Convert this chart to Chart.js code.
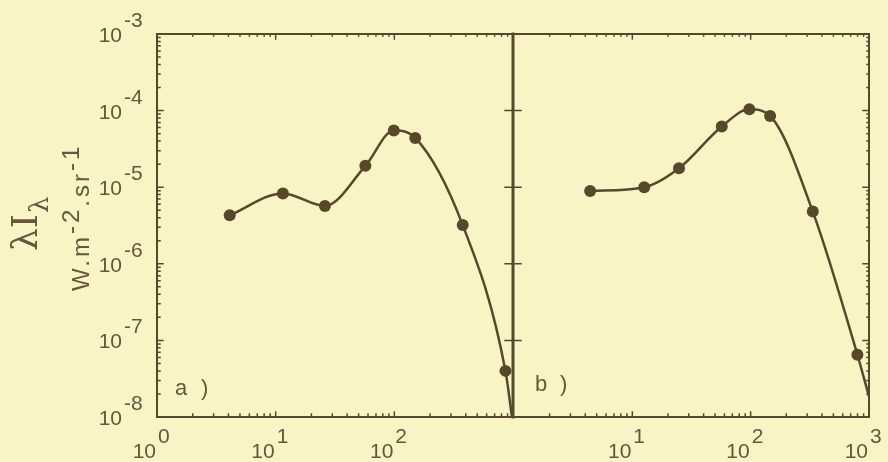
<!DOCTYPE html>
<html>
<head>
<meta charset="utf-8">
<script src="https://cdn.jsdelivr.net/npm/chart.js@4.4.0/dist/chart.umd.min.js"></script>
<style>
  html, body { margin: 0; padding: 0; background: #f8f4c6; }
  #wrap { position: relative; width: 888px; height: 462px; }
  #wrap canvas { position: absolute; left: 0; top: 0; }
</style>
</head>
<body>
<div id="wrap">
  <canvas id="chartA" width="888" height="462"></canvas>
  <canvas id="chartB" width="888" height="462"></canvas>
</div>
<script>
// Panel a)
const waveA = [4.1, 11.5, 26, 57, 99, 150, 377, 864, 980];
const fluxA = [4.3e-6, 8.3e-6, 5.7e-6, 1.9e-5, 5.5e-5, 4.4e-5, 3.2e-6, 4.0e-8, 1.0e-8];
const markA = [6, 6, 6, 6, 6, 6, 6, 6, 0];   // last one is just where the curve ends

// Panel b)
const waveB = [4.4, 12.6, 24.8, 57, 97.5, 146, 335, 798, 1000];
const fluxB = [8.9e-6, 1.0e-5, 1.77e-5, 6.2e-5, 1.04e-4, 8.5e-5, 4.8e-6, 6.5e-8, 1.85e-8];
const markB = [6, 6, 6, 6, 6, 6, 6, 6, 0];

// Axis ticks (exponents of ten)
const yExps = [-8, -7, -6, -5, -4, -3];
const xExpsA = [0, 1, 2];
const xExpsB = [1, 2, 3];

const ink = '#58482a';
const textInk = '#66563a';
const numFont = '21px "Liberation Sans", Arial, sans-serif';

function points(xs, ys) {
    return xs.map((x, i) => ({ x: x, y: ys[i] }));
}

function minorValues(lo, hi) {
    const v = [];
    for (let k = lo; k < hi; k++)
        for (let m = 2; m <= 9; m++) v.push(m * Math.pow(10, k));
    return v;
}

// "10" with a raised exponent, "10" ends at xRight
function drawPow(ctx, xRight, yBase, exp) {
    ctx.font = numFont;
    ctx.fillStyle = textInk;
    ctx.textBaseline = 'alphabetic';
    ctx.textAlign = 'right';
    ctx.fillText('10', xRight, yBase);
    ctx.textAlign = 'left';
    ctx.fillText(String(exp), xRight + 2, yBase - 15);
}

function frameA() {
    return {
        id: 'frameA',
        afterDraw(chart) {
            const ctx = chart.ctx, a = chart.chartArea;
            const xs = chart.scales.x, ys = chart.scales.y;
            ctx.save();
            ctx.strokeStyle = ink;
            ctx.lineCap = 'square';
            ctx.lineWidth = 2;
            ctx.beginPath();
            ctx.moveTo(a.right, a.top); ctx.lineTo(a.left, a.top);
            ctx.lineTo(a.left, a.bottom); ctx.lineTo(a.right, a.bottom);
            ctx.stroke();
            // divider between the panels
            ctx.lineWidth = 3;
            ctx.beginPath();
            ctx.moveTo(a.right, a.top); ctx.lineTo(a.right, a.bottom);
            ctx.stroke();

            ctx.lineWidth = 1.5;
            ctx.beginPath();
            // left axis ticks
            yExps.forEach(e => {
                const y = ys.getPixelForValue(Math.pow(10, e));
                ctx.moveTo(a.left, y); ctx.lineTo(a.left + 6, y);
                ctx.moveTo(a.right - 8, y); ctx.lineTo(a.right + 8, y);
            });
            minorValues(-8, -3).forEach(v => {
                const y = ys.getPixelForValue(v);
                ctx.moveTo(a.left, y); ctx.lineTo(a.left + 3, y);
            });
            // bottom / top ticks
            [1, 10, 100].forEach(v => {
                const x = xs.getPixelForValue(v);
                ctx.moveTo(x, a.bottom); ctx.lineTo(x, a.bottom - 5);
                ctx.moveTo(x, a.top); ctx.lineTo(x, a.top + 5);
            });
            minorValues(0, 3).forEach(v => {
                const x = xs.getPixelForValue(v);
                ctx.moveTo(x, a.bottom); ctx.lineTo(x, a.bottom - 3);
                ctx.moveTo(x, a.top); ctx.lineTo(x, a.top + 2);
            });
            ctx.stroke();

            // tick labels
            yExps.forEach(e => {
                const y = ys.getPixelForValue(Math.pow(10, e));
                drawPow(ctx, 122, y + 8, e);
            });
            xExpsA.forEach(e => {
                const x = xs.getPixelForValue(Math.pow(10, e));
                drawPow(ctx, x - 1, 458, e);
            });

            // panel label
            ctx.font = '22px "Liberation Sans", Arial, sans-serif';
            ctx.textAlign = 'left';
            ctx.fillText('a', 175, 395);
            ctx.fillText(')', 201, 395);

            // axis title, rotated
            ctx.translate(37, 251);
            ctx.rotate(-Math.PI / 2);
            ctx.font = '36px "DejaVu Serif", serif';
            ctx.fillText('λI', 0, 0);
            const w = ctx.measureText('λI').width;
            ctx.font = '26px "DejaVu Serif", serif';
            ctx.fillText('λ', w + 1, 11);
            ctx.setTransform(1, 0, 0, 1, 0, 0);

            ctx.translate(89, 291);
            ctx.rotate(-Math.PI / 2);
            ctx.font = '24px "Liberation Sans", Arial, sans-serif';
            ctx.letterSpacing = '3px';
            let pos = 0;
            [['W.m', 0], ['-2', -10], ['.sr', 0], ['-1', -10]].forEach(([t, dy]) => {
                ctx.fillText(t, pos, dy);
                pos += ctx.measureText(t).width;
            });
            ctx.restore();
        }
    };
}

function frameB() {
    return {
        id: 'frameB',
        afterDraw(chart) {
            const ctx = chart.ctx, a = chart.chartArea;
            const xs = chart.scales.x, ys = chart.scales.y;
            ctx.save();
            ctx.strokeStyle = ink;
            ctx.lineCap = 'square';
            ctx.lineWidth = 2;
            ctx.beginPath();
            ctx.moveTo(a.left, a.top); ctx.lineTo(a.right, a.top);
            ctx.lineTo(a.right, a.bottom); ctx.lineTo(a.left, a.bottom);
            ctx.stroke();

            ctx.lineWidth = 1.5;
            ctx.beginPath();
            yExps.forEach(e => {
                const y = ys.getPixelForValue(Math.pow(10, e));
                ctx.moveTo(a.right, y); ctx.lineTo(a.right - 6, y);
            });
            minorValues(-8, -3).forEach(v => {
                const y = ys.getPixelForValue(v);
                ctx.moveTo(a.right, y); ctx.lineTo(a.right - 2, y);
            });
            [10, 100].forEach(v => {
                const x = xs.getPixelForValue(v);
                ctx.moveTo(x, a.bottom); ctx.lineTo(x, a.bottom - 5);
                ctx.moveTo(x, a.top); ctx.lineTo(x, a.top + 5);
            });
            minorValues(0, 3).forEach(v => {
                const x = xs.getPixelForValue(v);
                ctx.moveTo(x, a.bottom); ctx.lineTo(x, a.bottom - 3);
                ctx.moveTo(x, a.top); ctx.lineTo(x, a.top + 2);
            });
            ctx.stroke();

            xExpsB.forEach(e => {
                const x = xs.getPixelForValue(Math.pow(10, e));
                drawPow(ctx, x - 1, 458, e);
            });

            ctx.font = '22px "Liberation Sans", Arial, sans-serif';
            ctx.fillStyle = textInk;
            ctx.textAlign = 'left';
            ctx.fillText('b', 535, 391);
            ctx.fillText(')', 560, 391);
            ctx.restore();
        }
    };
}

function makePanel(id, xs, ys, radii, pad, frame) {
    return new Chart(document.getElementById(id), {
        type: 'line',
        data: {
            datasets: [{
                data: points(xs, ys),
                borderColor: ink,
                borderWidth: 2.5,
                backgroundColor: ink,
                pointBackgroundColor: ink,
                pointBorderColor: ink,
                pointBorderWidth: 0,
                pointRadius: radii,
                cubicInterpolationMode: 'monotone',
                clip: false,
                fill: false
            }]
        },
        options: {
            responsive: false,
            animation: false,
            events: [],
            layout: { padding: pad },
            plugins: { legend: { display: false }, tooltip: { enabled: false } },
            scales: {
                x: { type: 'logarithmic', min: 1, max: 1000, display: false },
                y: { type: 'logarithmic', min: 1e-8, max: 1e-3, display: false }
            }
        },
        plugins: [frame]
    });
}

makePanel('chartA', waveA, fluxA, markA, { left: 157, right: 375, top: 34, bottom: 45 }, frameA());
makePanel('chartB', waveB, fluxB, markB, { left: 514, right: 19, top: 34, bottom: 45 }, frameB());
</script>
</body>
</html>
